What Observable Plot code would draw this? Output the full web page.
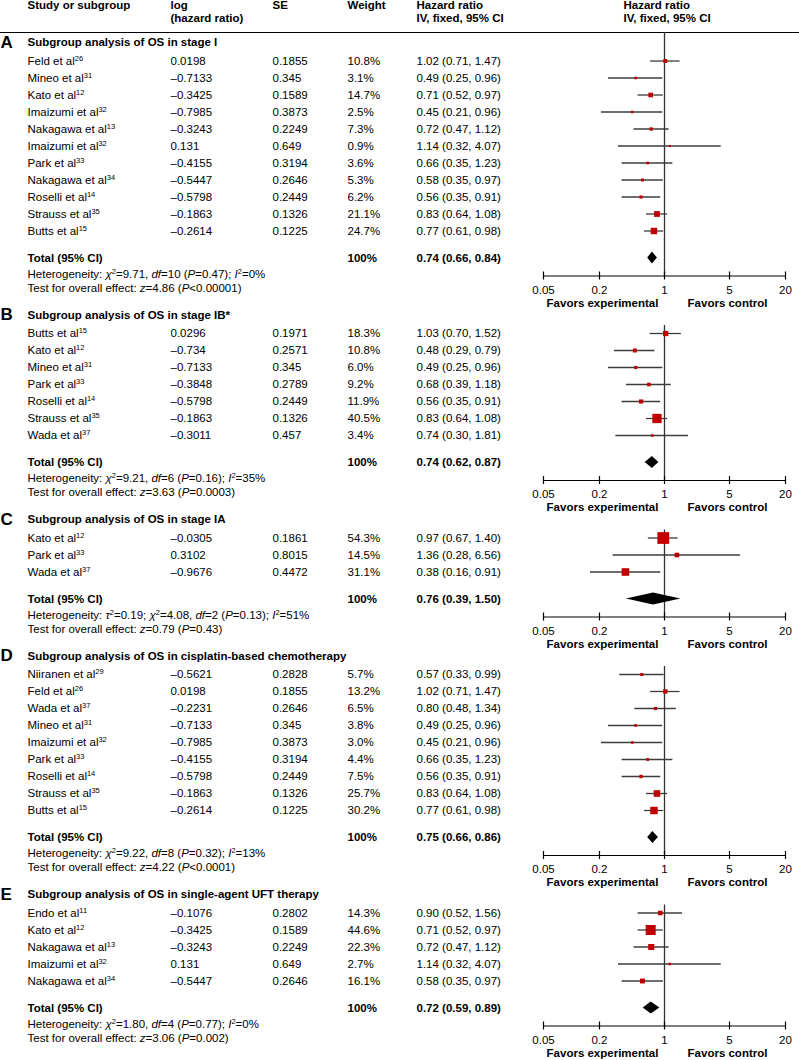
<!DOCTYPE html>
<html><head><meta charset="utf-8">
<script src="https://cdn.jsdelivr.net/npm/d3@7"></script>
<script src="https://cdn.jsdelivr.net/npm/@observablehq/plot@0.6"></script>
<style>
body{margin:0;background:#fff;}
#chart svg{display:block;}
</style></head><body><div id="chart"></div>
<script>
// ---------------- DATA ----------------
const panelLetters = ["A", "B", "C", "D", "E"];
const panelTitles = [
  "Subgroup analysis of OS in stage I",
  "Subgroup analysis of OS in stage IB*",
  "Subgroup analysis of OS in stage IA",
  "Subgroup analysis of OS in cisplatin-based chemotherapy",
  "Subgroup analysis of OS in single-agent UFT therapy"
];
const studyNames = [
  ["Feld", "Mineo", "Kato", "Imaizumi", "Nakagawa", "Imaizumi", "Park", "Nakagawa", "Roselli", "Strauss", "Butts"],
  ["Butts", "Kato", "Mineo", "Park", "Roselli", "Strauss", "Wada"],
  ["Kato", "Park", "Wada"],
  ["Niiranen", "Feld", "Wada", "Mineo", "Imaizumi", "Park", "Roselli", "Strauss", "Butts"],
  ["Endo", "Kato", "Nakagawa", "Imaizumi", "Nakagawa"]
];
const studyRefs = [
  [26, 31, 12, 32, 13, 32, 33, 34, 14, 35, 15],
  [15, 12, 31, 33, 14, 35, 37],
  [12, 33, 37],
  [29, 26, 37, 31, 32, 33, 14, 35, 15],
  [11, 12, 13, 32, 34]
];
const logHR = [
  [0.0198, -0.7133, -0.3425, -0.7985, -0.3243, 0.131, -0.4155, -0.5447, -0.5798, -0.1863, -0.2614],
  [0.0296, -0.734, -0.7133, -0.3848, -0.5798, -0.1863, -0.3011],
  [-0.0305, 0.3102, -0.9676],
  [-0.5621, 0.0198, -0.2231, -0.7133, -0.7985, -0.4155, -0.5798, -0.1863, -0.2614],
  [-0.1076, -0.3425, -0.3243, 0.131, -0.5447]
];
const stdErr = [
  [0.1855, 0.345, 0.1589, 0.3873, 0.2249, 0.649, 0.3194, 0.2646, 0.2449, 0.1326, 0.1225],
  [0.1971, 0.2571, 0.345, 0.2789, 0.2449, 0.1326, 0.457],
  [0.1861, 0.8015, 0.4472],
  [0.2828, 0.1855, 0.2646, 0.345, 0.3873, 0.3194, 0.2449, 0.1326, 0.1225],
  [0.2802, 0.1589, 0.2249, 0.649, 0.2646]
];
const weightPct = [
  [10.8, 3.1, 14.7, 2.5, 7.3, 0.9, 3.6, 5.3, 6.2, 21.1, 24.7],
  [18.3, 10.8, 6.0, 9.2, 11.9, 40.5, 3.4],
  [54.3, 14.5, 31.1],
  [5.7, 13.2, 6.5, 3.8, 3.0, 4.4, 7.5, 25.7, 30.2],
  [14.3, 44.6, 22.3, 2.7, 16.1]
];
const hazardRatio = [
  [1.02, 0.49, 0.71, 0.45, 0.72, 1.14, 0.66, 0.58, 0.56, 0.83, 0.77],
  [1.03, 0.48, 0.49, 0.68, 0.56, 0.83, 0.74],
  [0.97, 1.36, 0.38],
  [0.57, 1.02, 0.80, 0.49, 0.45, 0.66, 0.56, 0.83, 0.77],
  [0.90, 0.71, 0.72, 1.14, 0.58]
];
const ciLower = [
  [0.71, 0.25, 0.52, 0.21, 0.47, 0.32, 0.35, 0.35, 0.35, 0.64, 0.61],
  [0.70, 0.29, 0.25, 0.39, 0.35, 0.64, 0.30],
  [0.67, 0.28, 0.16],
  [0.33, 0.71, 0.48, 0.25, 0.21, 0.35, 0.35, 0.64, 0.61],
  [0.52, 0.52, 0.47, 0.32, 0.35]
];
const ciUpper = [
  [1.47, 0.96, 0.97, 0.96, 1.12, 4.07, 1.23, 0.97, 0.91, 1.08, 0.98],
  [1.52, 0.79, 0.96, 1.18, 0.91, 1.08, 1.81],
  [1.40, 6.56, 0.91],
  [0.99, 1.47, 1.34, 0.96, 0.96, 1.23, 0.91, 1.08, 0.98],
  [1.56, 0.97, 1.12, 4.07, 0.97]
];
const totalWeight = ["100%", "100%", "100%", "100%", "100%"];
const totalHR = [0.74, 0.74, 0.76, 0.75, 0.72];
const totalLower = [0.66, 0.62, 0.39, 0.66, 0.59];
const totalUpper = [0.84, 0.87, 1.50, 0.86, 0.89];
// markup: _italic_  ^superscript
const heterogeneity = [
  "Heterogeneity: _χ_^2=9.71, _df_=10 (_P_=0.47); _I_^2=0%",
  "Heterogeneity: _χ_^2=9.21, _df_=6 (_P_=0.16); _I_^2=35%",
  "Heterogeneity: _τ_^2=0.19; _χ_^2=4.08, _df_=2 (_P_=0.13); _I_^2=51%",
  "Heterogeneity: _χ_^2=9.22, _df_=8 (_P_=0.32); _I_^2=13%",
  "Heterogeneity: _χ_^2=1.80, _df_=4 (_P_=0.77); _I_^2=0%"
];
const overallEffect = [
  "Test for overall effect: _z_=4.86 (_P_<0.00001)",
  "Test for overall effect: _z_=3.63 (_P_=0.0003)",
  "Test for overall effect: _z_=0.79 (_P_=0.43)",
  "Test for overall effect: _z_=4.22 (_P_<0.0001)",
  "Test for overall effect: _z_=3.06 (_P_=0.002)"
];
const axisTicks = [0.05, 0.2, 1, 5, 20];
const sideLabels = ["Favors experimental", "Favors control"];
const sideAt = [0.2, 5];
const headerStudy = ["Study or subgroup"];
const headerLog = ["log", "(hazard ratio)"];
const headerSE = ["SE"];
const headerWeight = ["Weight"];
const headerHR = ["Hazard ratio", "IV, fixed, 95% CI"];

// ---------------- LAYOUT (px) ----------------
const W = 799, H = 1060, ROW = 17, FS = 11.5;
const COL = {letter: 0, study: 27, log: 170, se: 272, weight: 347, ci: 416, forestHead: -41};
const SIDE_DX = [3, -2];
const G = {line1: 5, line2: 18, rule: 32, firstTitle: 42, titleToFirst: 18.5, step: 17.0, lastToTotal: 27,
  totalToHet: 16, hetToTest: 14, totalToAxis: 18, axisToLabels: 14, labelsToFavors: 13, favorsToTitle: 12,
  lineLead: 8, tick: 4, diamond: 6};
const R = px => px / ROW;

const fmtNum = v => String(v).replace("-", "\u2013");
const fmtCI = (h, l, u) => `${h.toFixed(2)} (${l.toFixed(2)}, ${u.toFixed(2)})`;

const panels = [], studies = [], diamonds = [], ticks = [], sides = [[], []];
let cursor = G.firstTitle;
panelLetters.forEach((letter, p) => {
  const titleY = cursor;
  const first = titleY + G.titleToFirst;
  studyNames[p].forEach((name, i) => {
    studies.push({
      y: R(first + i * G.step),
      label: `${name} et al^${studyRefs[p][i]}`,
      log: fmtNum(logHR[p][i]), se: fmtNum(stdErr[p][i]),
      weight: weightPct[p][i].toFixed(1) + "%", w: weightPct[p][i],
      hr: hazardRatio[p][i], lo: ciLower[p][i], hi: ciUpper[p][i],
      ci: fmtCI(hazardRatio[p][i], ciLower[p][i], ciUpper[p][i])
    });
  });
  const last = first + (studyNames[p].length - 1) * G.step;
  const total = last + G.lastToTotal;
  const axis = total + G.totalToAxis;
  const labels = axis + G.axisToLabels;
  const favors = labels + G.labelsToFavors;
  panels.push({
    letter, title: panelTitles[p], titleY: R(titleY), totalY: R(total),
    hetY: R(total + G.totalToHet), testY: R(total + G.totalToHet + G.hetToTest),
    axisY: R(axis), lineTop: R(p === 0 ? G.rule : first - G.lineLead),
    het: heterogeneity[p], test: overallEffect[p], weight: totalWeight[p],
    ci: fmtCI(totalHR[p], totalLower[p], totalUpper[p])
  });
  diamonds.push(
    {k: p, x: totalLower[p], y1: R(total), y2: R(total)},
    {k: p, x: totalHR[p], y1: R(total - G.diamond), y2: R(total + G.diamond)},
    {k: p, x: totalUpper[p], y1: R(total), y2: R(total)}
  );
  axisTicks.forEach(t => ticks.push({x: t, y1: R(axis - G.tick), y2: R(axis + G.tick), ly: R(labels), label: String(t)}));
  sideLabels.forEach((s, k) => sides[k].push({x: sideAt[k], y: R(favors), label: s}));
  cursor = favors + G.favorsToTitle;
});

const header = (lines, dx) => Plot.text(lines.map((t, i) => ({t, y: R(i ? G.line2 : G.line1)})),
  {y: "y", text: "t", frameAnchor: "left", textAnchor: "start", dx, fontSize: FS, fontWeight: "bold", fill: "#000"});
const col = (data, y, text, dx, opts = {}) => Plot.text(data,
  {y, text, frameAnchor: "left", textAnchor: "start", dx, fontSize: FS, fill: "#000", ...opts});

const FOREST_LINE = "#3c3c3c";

const svg = Plot.plot({
  width: W, height: H,
  marginLeft: 0, marginRight: 0, marginTop: 0, marginBottom: 0,
  style: {fontFamily: "'Liberation Sans', Arial, Helvetica, sans-serif", fontSize: FS + "px", background: "#fff"},
  x: {type: "log", domain: [0.05, 20], range: [543, 785], axis: null},
  y: {type: "linear", domain: [0, R(H)], range: [0, H], axis: null},
  r: {type: "linear", domain: [0, 60], range: [1.13, 7.22]},
  marks: [
    // header
    Plot.ruleY([R(G.rule)], {stroke: "#000", strokeWidth: 1}),
    header(headerStudy, COL.study),
    header(headerLog, COL.log),
    header(headerSE, COL.se),
    header(headerWeight, COL.weight),
    header(headerHR, COL.ci),
    Plot.text(headerHR.map((t, i) => ({t, y: R(i ? G.line2 : G.line1)})),
      {x: () => 1, y: "y", text: "t", textAnchor: "start", dx: COL.forestHead, fontSize: FS, fontWeight: "bold", fill: "#000"}),
    // panel titles
    col(panels, "titleY", "letter", COL.letter, {fontSize: 17, fontWeight: 900}),
    col(panels, "titleY", "title", COL.study, {fontWeight: "bold"}),
    // study rows
    col(studies, "y", "label", COL.study),
    col(studies, "y", "log", COL.log),
    col(studies, "y", "se", COL.se),
    col(studies, "y", "weight", COL.weight),
    col(studies, "y", "ci", COL.ci),
    // totals
    col(panels, "totalY", () => "Total (95% CI)", COL.study, {fontWeight: "bold"}),
    col(panels, "totalY", "weight", COL.weight, {fontWeight: "bold"}),
    col(panels, "totalY", "ci", COL.ci, {fontWeight: "bold"}),
    col(panels, "hetY", "het", COL.study),
    col(panels, "testY", "test", COL.study),
    // forest
    Plot.ruleX(panels, {x: () => 1, y1: "lineTop", y2: "axisY", stroke: "#333", strokeWidth: 1.3}),
    Plot.ruleY(studies, {y: "y", x1: "lo", x2: "hi", stroke: FOREST_LINE, strokeWidth: 1.3}),
    Plot.dot(studies, {x: "hr", y: "y", r: "w", symbol: "square", fill: "#c00000", stroke: "none"}),
    Plot.areaY(diamonds, {x: "x", y1: "y1", y2: "y2", z: "k", fill: "#000", curve: "linear"}),
    // axes
    Plot.ruleY(panels, {y: "axisY", x1: () => 0.05, x2: () => 20, stroke: "#000", strokeWidth: 1.2}),
    Plot.ruleX(ticks, {x: "x", y1: "y1", y2: "y2", stroke: "#000", strokeWidth: 1.2}),
    Plot.text(ticks, {x: "x", y: "ly", text: "label", fontSize: FS, fill: "#000"}),
    ...sides.map((data, k) => Plot.text(data, {x: "x", y: "y", text: "label", dx: SIDE_DX[k], fontSize: FS, fontWeight: "bold", fill: "#000"}))
  ]
});

// rich text: _italic_ and ^superscript
const NS = "http://www.w3.org/2000/svg";
svg.querySelectorAll("text").forEach(el => {
  const s = el.textContent;
  if (!/[_^]/.test(s)) return;
  el.textContent = "";
  const re = /_([^_]+)_|\^(\d+)|([^_^]+)/g;
  let m, raised = false;
  while ((m = re.exec(s))) {
    const t = document.createElementNS(NS, "tspan");
    if (m[2] !== undefined) {
      t.textContent = m[2];
      t.setAttribute("font-size", "7.5");
      t.setAttribute("dy", "-4");
      raised = true;
    } else {
      t.textContent = m[1] !== undefined ? m[1] : m[3];
      if (m[1] !== undefined) t.setAttribute("font-style", "italic");
      if (raised) { t.setAttribute("dy", "4"); raised = false; }
    }
    el.appendChild(t);
  }
});
document.getElementById("chart").appendChild(svg);
</script></body></html>
